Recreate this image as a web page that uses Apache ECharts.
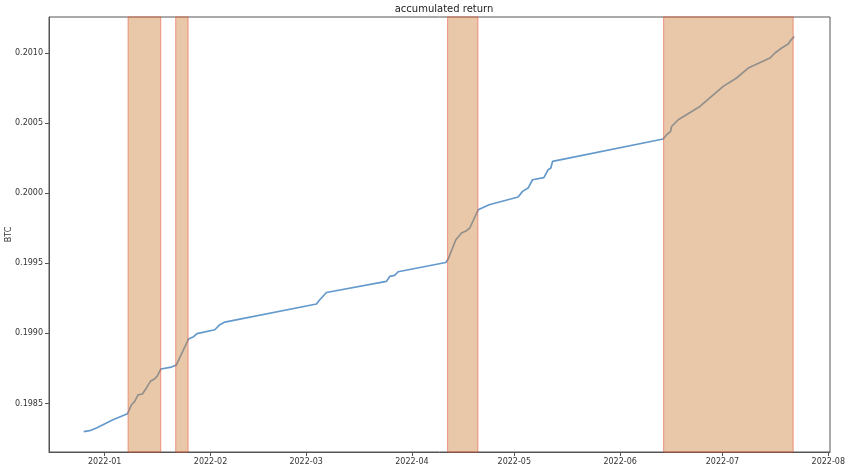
<!DOCTYPE html>
<html>
<head>
<meta charset="utf-8">
<script src="https://cdn.jsdelivr.net/npm/echarts@6/dist/echarts.min.js"></script>
<style>html,body{margin:0;padding:0;background:#fff}#c{width:850px;height:471px}</style>
</head>
<body>
<div id="c"></div>
<script>
const dates = [
 '2021-12-25 20:00','2021-12-27 14:00','2021-12-29 14:00','2022-01-03 10:00','2022-01-07 16:00',
 '2022-01-08 20:00','2022-01-09 19:00','2022-01-10 18:00','2022-01-12 01:00','2022-01-13 05:00',
 '2022-01-14 09:00','2022-01-15 16:00','2022-01-16 08:00','2022-01-17 10:00','2022-01-20 13:00',
 '2022-01-22 00:00','2022-01-25 13:00','2022-01-26 21:00','2022-01-28 01:00','2022-02-02 06:00',
 '2022-02-03 17:00','2022-02-05 04:00','2022-03-04 01:00','2022-03-05 00:00','2022-03-06 23:00',
 '2022-03-24 13:00','2022-03-25 13:00','2022-03-26 23:00','2022-03-27 23:00','2022-04-10 22:00',
 '2022-04-11 15:00','2022-04-13 21:00','2022-04-15 13:00','2022-04-17 00:00','2022-04-17 23:00',
 '2022-04-20 10:00','2022-04-23 15:00','2022-05-02 03:00','2022-05-03 10:00','2022-05-05 01:00',
 '2022-05-06 08:00','2022-05-09 16:00','2022-05-10 22:00','2022-05-11 17:00','2022-05-12 05:00',
 '2022-06-13 15:00','2022-06-14 15:00','2022-06-15 19:00','2022-06-16 02:00','2022-06-18 01:00',
 '2022-06-24 09:00','2022-07-01 05:00','2022-07-05 03:00','2022-07-08 13:00','2022-07-14 22:00',
 '2022-07-16 09:00','2022-07-18 08:00','2022-07-20 06:00','2022-07-20 23:00','2022-07-22 00:00'
];
const returns = [
 0.198299,0.198306,0.198325,0.198384,0.198427,
 0.198491,0.198515,0.198561,0.198568,0.198611,
 0.198658,0.198677,0.198693,0.198746,0.198760,
 0.198775,0.198960,0.198974,0.198998,0.199026,
 0.199062,0.199081,0.199210,0.199240,0.199292,
 0.199371,0.199407,0.199414,0.199440,0.199506,
 0.199531,0.199668,0.199716,0.199733,0.199752,
 0.199882,0.199918,0.199973,0.200013,0.200037,
 0.200096,0.200111,0.200168,0.200180,0.200227,
 0.200387,0.200417,0.200441,0.200476,0.200524,
 0.200619,0.200762,0.200822,0.200893,0.200964,
 0.201000,0.201036,0.201064,0.201090,0.201118
];
const regionStarts = ['2022-01-07 20:00','2022-01-21 19:00','2022-04-11 11:00','2022-06-13 18:00'];
const regionEnds   = ['2022-01-17 10:00','2022-01-25 10:00','2022-04-20 08:00','2022-07-21 17:00'];
const xTicks = ['2022-01-01 00:00','2022-02-01 00:00','2022-03-01 00:00','2022-04-01 00:00','2022-05-01 00:00','2022-06-01 00:00','2022-07-01 00:00','2022-08-01 00:00'];
const yTicks = [0.1985, 0.1990, 0.1995, 0.2000, 0.2005, 0.2010];
const xMin = '2021-12-15 16:00', xMax = '2022-08-01 12:00';
const yMin = 0.198154, yMax = 0.201257;

const toTs = s => { const [d, t] = s.split(' '); const [Y, M, D] = d.split('-').map(Number); const [h, m] = t.split(':').map(Number); return new Date(Y, M - 1, D, h, m).getTime(); };
const pad = n => (n < 10 ? '0' : '') + n;

const chart = echarts.init(document.getElementById('c'), null, {renderer: 'canvas'});
const font = 'DejaVu Sans';
chart.setOption({
  animation: false,
  title: {text: 'accumulated return', left: 439, top: -1, textAlign: 'center',
    textStyle: {fontFamily: font, fontSize: 10, fontWeight: 'normal', color: '#222'}},
  grid: {left: 49, right: 20, top: 17, bottom: 19, outerBoundsMode: 'none', containLabel: false,
    show: true, borderColor: '#555', borderWidth: 1, backgroundColor: '#fff'},
  xAxis: {
    type: 'value', min: toTs(xMin), max: toTs(xMax), scale: true,
    axisLine: {show: true, lineStyle: {color: '#555', width: 1}},
    axisTick: {show: true, length: 4, lineStyle: {color: '#555'}, customValues: xTicks.map(toTs)},
    axisLabel: {show: true, margin: 6, fontFamily: font, fontSize: 8, color: '#333',
      customValues: xTicks.map(toTs),
      formatter: v => { const d = new Date(v); return d.getFullYear() + '-' + pad(d.getMonth() + 1); }},
    splitLine: {show: false}
  },
  yAxis: {
    type: 'value', min: yMin, max: yMax, scale: true, name: 'BTC', nameLocation: 'middle', nameGap: 36,
    nameMoveOverlap: false,
    nameTextStyle: {fontFamily: font, fontSize: 8, color: '#333'},
    axisLine: {show: true, lineStyle: {color: '#555', width: 1}},
    axisTick: {show: true, length: 4, lineStyle: {color: '#555'}, customValues: yTicks},
    axisLabel: {show: true, margin: 6, fontFamily: font, fontSize: 8, color: '#333',
      customValues: yTicks, formatter: v => v.toFixed(4)},
    splitLine: {show: false}
  },
  series: [
    {type: 'line', z: 2, showSymbol: false, symbol: 'none',
      lineStyle: {color: '#6499cc', width: 1.7},
      data: dates.map((d, i) => [toTs(d), returns[i]])},
    {type: 'line', z: 5, data: [], silent: true,
      markArea: {silent: true, z: 5,
        itemStyle: {color: 'rgba(205,133,63,0.45)', borderColor: 'rgba(235,80,60,0.55)', borderWidth: 1},
        data: regionStarts.map((s, i) => [{xAxis: toTs(s)}, {xAxis: toTs(regionEnds[i])}])}}
  ]
});
</script>
</body>
</html>
